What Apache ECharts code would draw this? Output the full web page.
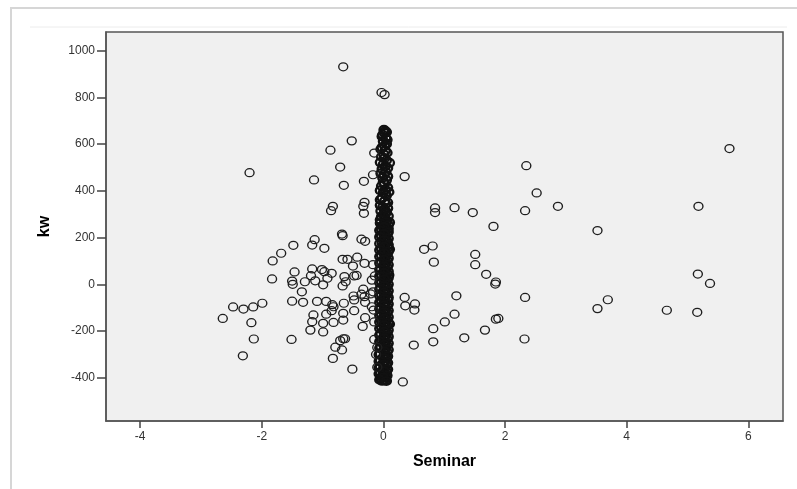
<!DOCTYPE html>
<html>
<head>
<meta charset="utf-8">
<script src="https://cdn.jsdelivr.net/npm/echarts@6/dist/echarts.min.js"></script>
<style>
  html, body { margin: 0; padding: 0; background: #fff; }
  #chart { width: 797px; height: 489px; }
</style>
</head>
<body>
<div id="chart"></div>
<script>
// tick labels
var xTicks = [-4, -2, 0, 2, 4, 6];
var yTicks = [-400, -200, 0, 200, 400, 600, 800, 1000];

// scattered points (Seminar, kw)
var outerPoints = [
  [5.69, 581], [2.35, 508], [2.52, 391], [0.85, 327], [0.85, 307], [1.17, 328], [1.47, 307],
  [1.81, 248], [2.33, 315], [2.87, 334], [3.52, 230], [5.18, 334], [0.35, 461], [0.81, 164],
  [0.67, 150], [1.51, 128], [1.51, 84], [0.83, 95], [1.69, 43], [1.85, 10], [1.84, 1],
  [2.33, -56], [1.20, -49], [0.35, -56], [0.36, -92], [0.52, -84], [0.51, -110], [1.17, -128],
  [1.01, -161], [0.82, -190], [0.82, -246], [0.50, -260], [1.33, -229], [1.67, -196],
  [1.85, -149], [1.89, -146], [2.32, -234], [3.52, -104], [3.69, -66], [4.66, -111],
  [5.16, -120], [5.17, 44], [5.37, 4], [0.32, -418]
];
var leftPoints = [
  [-0.66, 931], [-0.03, 821], [0.02, 812], [-0.52, 614], [-0.87, 574], [-0.15, 562],
  [-0.71, 502], [-2.20, 478], [-0.17, 469], [-1.14, 447], [-0.32, 441], [-0.65, 424],
  [-0.83, 334], [-0.86, 315], [-0.31, 351], [-0.33, 334], [-0.32, 304], [-0.68, 215],
  [-0.67, 208], [-0.36, 193], [-0.30, 184], [-1.13, 191], [-1.17, 168], [-1.48, 167],
  [-0.97, 154], [-1.68, 133], [-1.82, 100], [-1.83, 23], [-1.46, 53], [-1.50, 14],
  [-1.49, 0], [-1.29, 11], [-1.17, 66], [-1.19, 37], [-1.12, 15], [-1.01, 63], [-0.97, 54],
  [-0.85, 47], [-0.92, 26], [-0.99, -2], [-0.67, 107], [-0.59, 107], [-0.43, 116],
  [-0.31, 90], [-0.17, 84], [-0.50, 78], [-0.48, 36], [-0.44, 38], [-0.64, 33], [-0.62, 11],
  [-0.67, -7], [-0.14, 36], [-1.34, -32], [-1.50, -72], [-1.32, -77], [-1.09, -73],
  [-0.94, -73], [-0.84, -87], [-0.82, -96], [-0.85, -113], [-0.65, -81], [-0.48, -67],
  [-0.49, -50], [-0.33, -21], [-0.31, -53], [-0.30, -77], [-0.17, -32], [-0.16, -110],
  [-0.48, -113], [-0.36, -42], [-2.47, -97], [-2.30, -106], [-2.14, -97], [-1.99, -81],
  [-2.64, -146], [-2.17, -164], [-2.13, -234], [-2.31, -306], [-1.51, -236], [-1.15, -131],
  [-1.17, -160], [-1.20, -196], [-0.99, -167], [-0.94, -128], [-0.99, -204], [-0.82, -163],
  [-0.66, -153], [-0.66, -124], [-0.34, -180], [-0.30, -143], [-0.15, -161], [-0.66, -233],
  [-0.63, -233], [-0.71, -241], [-0.15, -236], [-0.79, -269], [-0.68, -281], [-0.83, -317],
  [-0.51, -363], [-0.19, 18], [-0.21, -41], [-0.19, -96], [-0.12, -300], [-0.10, -270],
  [-0.10, -355]
];
// the dense stripe of values near Seminar = 0
var stripePoints = [
  [0.01, 661], [0.03, 656], [0.02, 648], [-0.01, 640], [0.04, 626], [0.00, 612], [0.05, 601],
  [-0.02, 586], [0.03, 572], [0.01, 556], [-0.03, 546], [0.05, 531], [0.10, 520], [0.00, 514],
  [0.03, 505], [-0.02, 494], [0.04, 481], [0.01, 470], [-0.01, 456], [0.05, 446], [0.02, 431],
  [-0.03, 421], [0.03, 406], [0.09, 395], [0.00, 394], [0.05, 381], [-0.02, 369], [0.02, 356],
  [0.04, 344], [-0.01, 331], [0.02, 320], [0.05, 309], [0.00, 299], [-0.03, 290], [0.03, 281],
  [0.06, 271], [0.10, 265], [0.01, 259], [-0.02, 250], [0.04, 241], [0.08, 238],
  [-0.03, 234], [0.03, 228], [0.00, 220], [0.06, 213], [-0.03, 207], [0.03, 199], [0.00, 193],
  [0.06, 185], [-0.02, 178], [0.03, 172], [0.00, 166], [0.07, 158], [0.10, 150], [-0.03, 151],
  [0.02, 143], [0.00, 138], [0.06, 129], [-0.03, 123], [0.03, 117], [0.01, 108], [0.06, 102],
  [-0.03, 95], [0.03, 89], [0.00, 80], [0.06, 74], [-0.04, 66], [0.03, 61], [0.00, 52],
  [0.06, 46], [0.09, 40], [-0.03, 38], [0.02, 32], [0.00, 24], [0.06, 18], [-0.03, 10],
  [0.03, 4], [0.00, -4], [0.06, -10], [-0.04, -17], [0.03, -24], [0.00, -30], [0.06, -39],
  [-0.03, -45], [0.03, -51], [0.00, -60], [0.07, -66], [-0.03, -72], [0.03, -80], [0.00, -86],
  [0.06, -94], [-0.04, -100], [0.03, -108], [0.00, -115], [0.06, -121], [-0.03, -130],
  [0.03, -136], [0.00, -142], [0.06, -150], [-0.03, -157], [0.03, -163], [0.10, -170],
  [0.00, -172], [0.06, -178], [-0.03, -184], [0.03, -192], [0.00, -198], [0.06, -207],
  [-0.04, -213], [0.03, -219], [0.00, -228], [0.06, -234], [-0.03, -240], [0.03, -249],
  [0.00, -255], [0.06, -262], [-0.04, -268], [0.03, -276], [0.00, -283], [0.06, -290],
  [-0.05, -297], [0.03, -303], [0.00, -311], [0.05, -318], [-0.05, -325], [0.02, -332],
  [-0.01, -339], [0.05, -346], [-0.05, -352], [0.02, -360], [-0.01, -367], [0.05, -373],
  [-0.05, -378], [0.02, -386], [-0.02, -393], [0.04, -398], [-0.04, -404], [0.01, -409],
  [-0.02, -413], [0.04, -410]
];
// more values inside the stripe, overlapping the ones above
var stripeMore = [
  [0.05, 652], [-0.02, 633], [0.06, 619], [0.02, 593], [-0.04, 578], [0.06, 563], [0.02, 540],
  [-0.05, 522], [0.07, 498], [-0.04, 475], [0.07, 462], [0.00, 438], [0.07, 414], [-0.05, 402],
  [0.03, 387], [-0.05, 362], [0.07, 350], [-0.05, 338], [0.07, 326], [-0.04, 314], [0.03, 303],
  [0.08, 292], [-0.05, 276], [0.04, 266], [-0.05, 262], [0.08, 254], [0.01, 246],
  [-0.06, 231], [0.08, 224], [0.015, 216], [-0.06, 203], [0.08, 196], [0.015, 189],
  [-0.06, 175], [0.08, 169], [0.015, 161], [-0.06, 147], [0.08, 140], [0.015, 133],
  [-0.06, 119], [0.08, 112], [0.015, 105], [-0.06, 91], [0.08, 84], [0.015, 77],
  [-0.06, 63], [0.08, 56], [0.015, 49], [-0.06, 35], [0.08, 28], [0.015, 21],
  [-0.06, 7], [0.08, 0], [0.015, -7], [-0.06, -21], [0.08, -28], [0.015, -35],
  [-0.06, -49], [0.08, -56], [0.015, -63], [-0.06, -77], [0.08, -84], [0.015, -91],
  [-0.06, -105], [0.08, -112], [0.015, -119], [-0.06, -133], [0.08, -140], [0.015, -147],
  [-0.06, -161], [0.08, -166], [0.015, -175], [-0.06, -189], [0.08, -196], [0.015, -203],
  [-0.06, -217], [0.08, -224], [0.015, -231], [-0.06, -245], [0.08, -252], [0.015, -259],
  [-0.06, -273], [0.08, -280], [0.015, -287], [-0.07, -301], [0.07, -308], [0.01, -315],
  [-0.07, -329], [0.07, -336], [0.01, -343], [-0.07, -357], [0.07, -364], [0.01, -371],
  [-0.07, -383], [0.06, -390], [0.00, -399], [-0.06, -408], [0.05, -414]
];

var chart = echarts.init(document.getElementById('chart'), null, { renderer: 'canvas' });

var ringStyle = {
  color: 'rgba(0,0,0,0)',
  borderColor: '#1e1e1e',
  borderWidth: 1.3,
  opacity: 1
};
// the stripe holds far more overlapping values than are listed, so its rings are inked heavier
var stripeStyle = {
  color: 'rgba(0,0,0,0)',
  borderColor: '#111',
  borderWidth: 2.2,
  opacity: 1
};

var option = {
  backgroundColor: '#fff',
  animation: false,
  textStyle: { fontFamily: 'Liberation Sans, Arial, sans-serif' },
  graphic: [
    {
      type: 'rect', z: -10, silent: true,
      shape: { x: 11, y: 8, width: 800, height: 500 },
      style: { fill: '#fff', stroke: '#d6d6d6', lineWidth: 2 }
    },
    {
      type: 'line', z: -9, silent: true,
      shape: { x1: 30, y1: 27, x2: 787, y2: 27 },
      style: { stroke: '#ececec', lineWidth: 1 }
    }
  ],
  grid: {
    left: 106, top: 32, right: 14, bottom: 68,
    show: true,
    backgroundColor: '#f0f0f0',
    borderColor: '#555',
    borderWidth: 1.5
  },
  xAxis: {
    type: 'value',
    min: -4.56, max: 6.57,
    name: 'Seminar',
    nameLocation: 'middle',
    nameGap: 33,
    nameTextStyle: { fontSize: 16, fontWeight: 'bold', color: '#000' },
    splitLine: { show: false },
    axisLine: { show: true, onZero: false, lineStyle: { color: '#555', width: 1.5 } },
    axisTick: { show: true, length: 7, customValues: xTicks, lineStyle: { color: '#444', width: 1.5 } },
    axisLabel: { customValues: xTicks, color: '#333', fontSize: 12, margin: 10 }
  },
  yAxis: {
    type: 'value',
    min: -585, max: 1080,
    name: 'kw',
    nameLocation: 'middle',
    nameGap: 53,
    nameRotate: 90,
    nameTextStyle: { fontSize: 16, fontWeight: 'bold', color: '#000' },
    splitLine: { show: false },
    axisLine: { show: true, onZero: false, lineStyle: { color: '#555', width: 1.5 } },
    axisTick: { show: true, length: 9, customValues: yTicks, lineStyle: { color: '#444', width: 1.5 } },
    axisLabel: {
      customValues: yTicks, color: '#333', fontSize: 12, margin: 11,
      formatter: function (v) { return String(v); }
    }
  },
  series: [
    { type: 'scatter', symbol: 'circle', symbolSize: [9, 8], data: stripePoints, itemStyle: stripeStyle },
    { type: 'scatter', symbol: 'circle', symbolSize: [9, 8], data: stripeMore, itemStyle: stripeStyle },
    { type: 'scatter', symbol: 'circle', symbolSize: [9, 8], data: leftPoints, itemStyle: ringStyle },
    { type: 'scatter', symbol: 'circle', symbolSize: [9, 8], data: outerPoints, itemStyle: ringStyle }
  ]
};

chart.setOption(option);
</script>
</body>
</html>
